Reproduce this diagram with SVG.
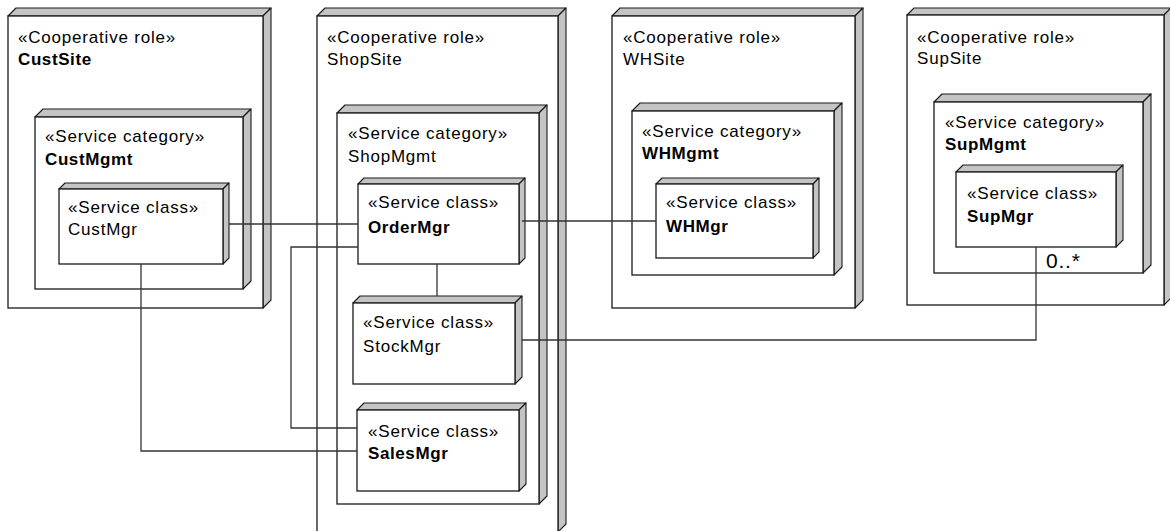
<svg xmlns="http://www.w3.org/2000/svg" width="1170" height="531" viewBox="0 0 1170 531">
<style>
.f{fill:#fff;stroke:#1a1a1a;stroke-width:1.3}
.s{fill:#c4c4c4;stroke:#1a1a1a;stroke-width:1.1;stroke-linejoin:round}
.t{font-family:"Liberation Sans",Arial,sans-serif;font-size:17px;letter-spacing:0.8px;fill:#000}
.b{font-weight:bold;letter-spacing:0.6px}
.c{fill:none;stroke:#333;stroke-width:1.3}
</style>
<rect width="1170" height="531" fill="#fff"/>
<g id="CustSite">
<polygon class="s" points="8,16 16,8 271,8 263,16"/>
<polygon class="s" points="263,16 271,8 271,300 263,308"/>
<rect class="f" x="8" y="16" width="255" height="292"/>
<text class="t" x="18" y="43">«Cooperative role»</text>
<text class="t b" x="18" y="65">CustSite</text>
</g>
<g id="ShopSite">
<polygon class="s" points="317,16 325,8 566,8 558,16"/>
<polygon class="s" points="558,16 566,8 566,524 558,532"/>
<rect class="f" x="317" y="16" width="241" height="516"/>
<text class="t" x="327" y="43">«Cooperative role»</text>
<text class="t" x="327" y="65">ShopSite</text>
</g>
<g id="WHSite">
<polygon class="s" points="612,16 620,8 863,8 855,16"/>
<polygon class="s" points="855,16 863,8 863,300 855,308"/>
<rect class="f" x="612" y="16" width="243" height="292"/>
<text class="t" x="623" y="43">«Cooperative role»</text>
<text class="t" x="623" y="65">WHSite</text>
</g>
<g id="SupSite">
<polygon class="s" points="907,15 914,8 1171,8 1164,15"/>
<polygon class="s" points="1164,15 1171,8 1171,298 1164,305"/>
<rect class="f" x="907" y="15" width="257" height="290"/>
<text class="t" x="917" y="43">«Cooperative role»</text>
<text class="t" x="917" y="64">SupSite</text>
</g>
<g id="CustMgmt">
<polygon class="s" points="35,117 43,109 251,109 243,117"/>
<polygon class="s" points="243,117 251,109 251,281 243,289"/>
<rect class="f" x="35" y="117" width="208" height="172"/>
<text class="t" x="45" y="142">«Service category»</text>
<text class="t b" x="45" y="165">CustMgmt</text>
</g>
<g id="ShopMgmt">
<polygon class="s" points="337,113 345,105 547,105 539,113"/>
<polygon class="s" points="539,113 547,105 547,496 539,504"/>
<rect class="f" x="337" y="113" width="202" height="391"/>
<text class="t" x="348" y="139">«Service category»</text>
<text class="t" x="348" y="162">ShopMgmt</text>
</g>
<g id="WHMgmt">
<polygon class="s" points="632,111 640,103 842,103 834,111"/>
<polygon class="s" points="834,111 842,103 842,267 834,275"/>
<rect class="f" x="632" y="111" width="202" height="164"/>
<text class="t" x="642" y="137">«Service category»</text>
<text class="t b" x="642" y="159">WHMgmt</text>
</g>
<g id="SupMgmt">
<polygon class="s" points="934,102 942,94 1151,94 1143,102"/>
<polygon class="s" points="1143,102 1151,94 1151,265 1143,273"/>
<rect class="f" x="934" y="102" width="209" height="171"/>
<text class="t" x="945" y="128">«Service category»</text>
<text class="t b" x="945" y="150">SupMgmt</text>
</g>
<g id="CustMgr">
<polygon class="s" points="59,189 65,183 229,183 223,189"/>
<polygon class="s" points="223,189 229,183 229,258 223,264"/>
<rect class="f" x="59" y="189" width="164" height="75"/>
<text class="t" x="68" y="213">«Service class»</text>
<text class="t" x="68" y="235">CustMgr</text>
</g>
<g id="OrderMgr">
<polygon class="s" points="358,184 364,178 525,178 519,184"/>
<polygon class="s" points="519,184 525,178 525,258 519,264"/>
<rect class="f" x="358" y="184" width="161" height="80"/>
<text class="t" x="368" y="208">«Service class»</text>
<text class="t b" x="368" y="233">OrderMgr</text>
</g>
<g id="StockMgr">
<polygon class="s" points="353,303 360,296 522,296 515,303"/>
<polygon class="s" points="515,303 522,296 522,377 515,384"/>
<rect class="f" x="353" y="303" width="162" height="81"/>
<text class="t" x="363" y="328">«Service class»</text>
<text class="t" x="363" y="352">StockMgr</text>
</g>
<g id="SalesMgr">
<polygon class="s" points="357,410 364,403 526,403 519,410"/>
<polygon class="s" points="519,410 526,403 526,484 519,491"/>
<rect class="f" x="357" y="410" width="162" height="81"/>
<text class="t" x="368" y="437">«Service class»</text>
<text class="t b" x="368" y="459">SalesMgr</text>
</g>
<g id="WHMgr">
<polygon class="s" points="656,184 662,178 819,178 813,184"/>
<polygon class="s" points="813,184 819,178 819,252 813,258"/>
<rect class="f" x="656" y="184" width="157" height="74"/>
<text class="t" x="666" y="208">«Service class»</text>
<text class="t b" x="666" y="232">WHMgr</text>
</g>
<g id="SupMgr">
<polygon class="s" points="956,172 963,165 1123,165 1116,172"/>
<polygon class="s" points="1116,172 1123,165 1123,240 1116,247"/>
<rect class="f" x="956" y="172" width="160" height="75"/>
<text class="t" x="967" y="199">«Service class»</text>
<text class="t b" x="967" y="222">SupMgr</text>
</g>
<g id="connectors">
<polyline class="c" points="229,224 358,224"/>
<polyline class="c" points="141,264 141,451 357,451"/>
<polyline class="c" points="358,247 291,247 291,428 357,428"/>
<polyline class="c" points="437,264 437,296"/>
<polyline class="c" points="522,221 656,221"/>
<polyline class="c" points="522,340 1036,340 1036,247"/>
<text class="t" x="1046" y="268" style="font-size:21px;letter-spacing:0.8px">0..*</text>
</g>
</svg>
